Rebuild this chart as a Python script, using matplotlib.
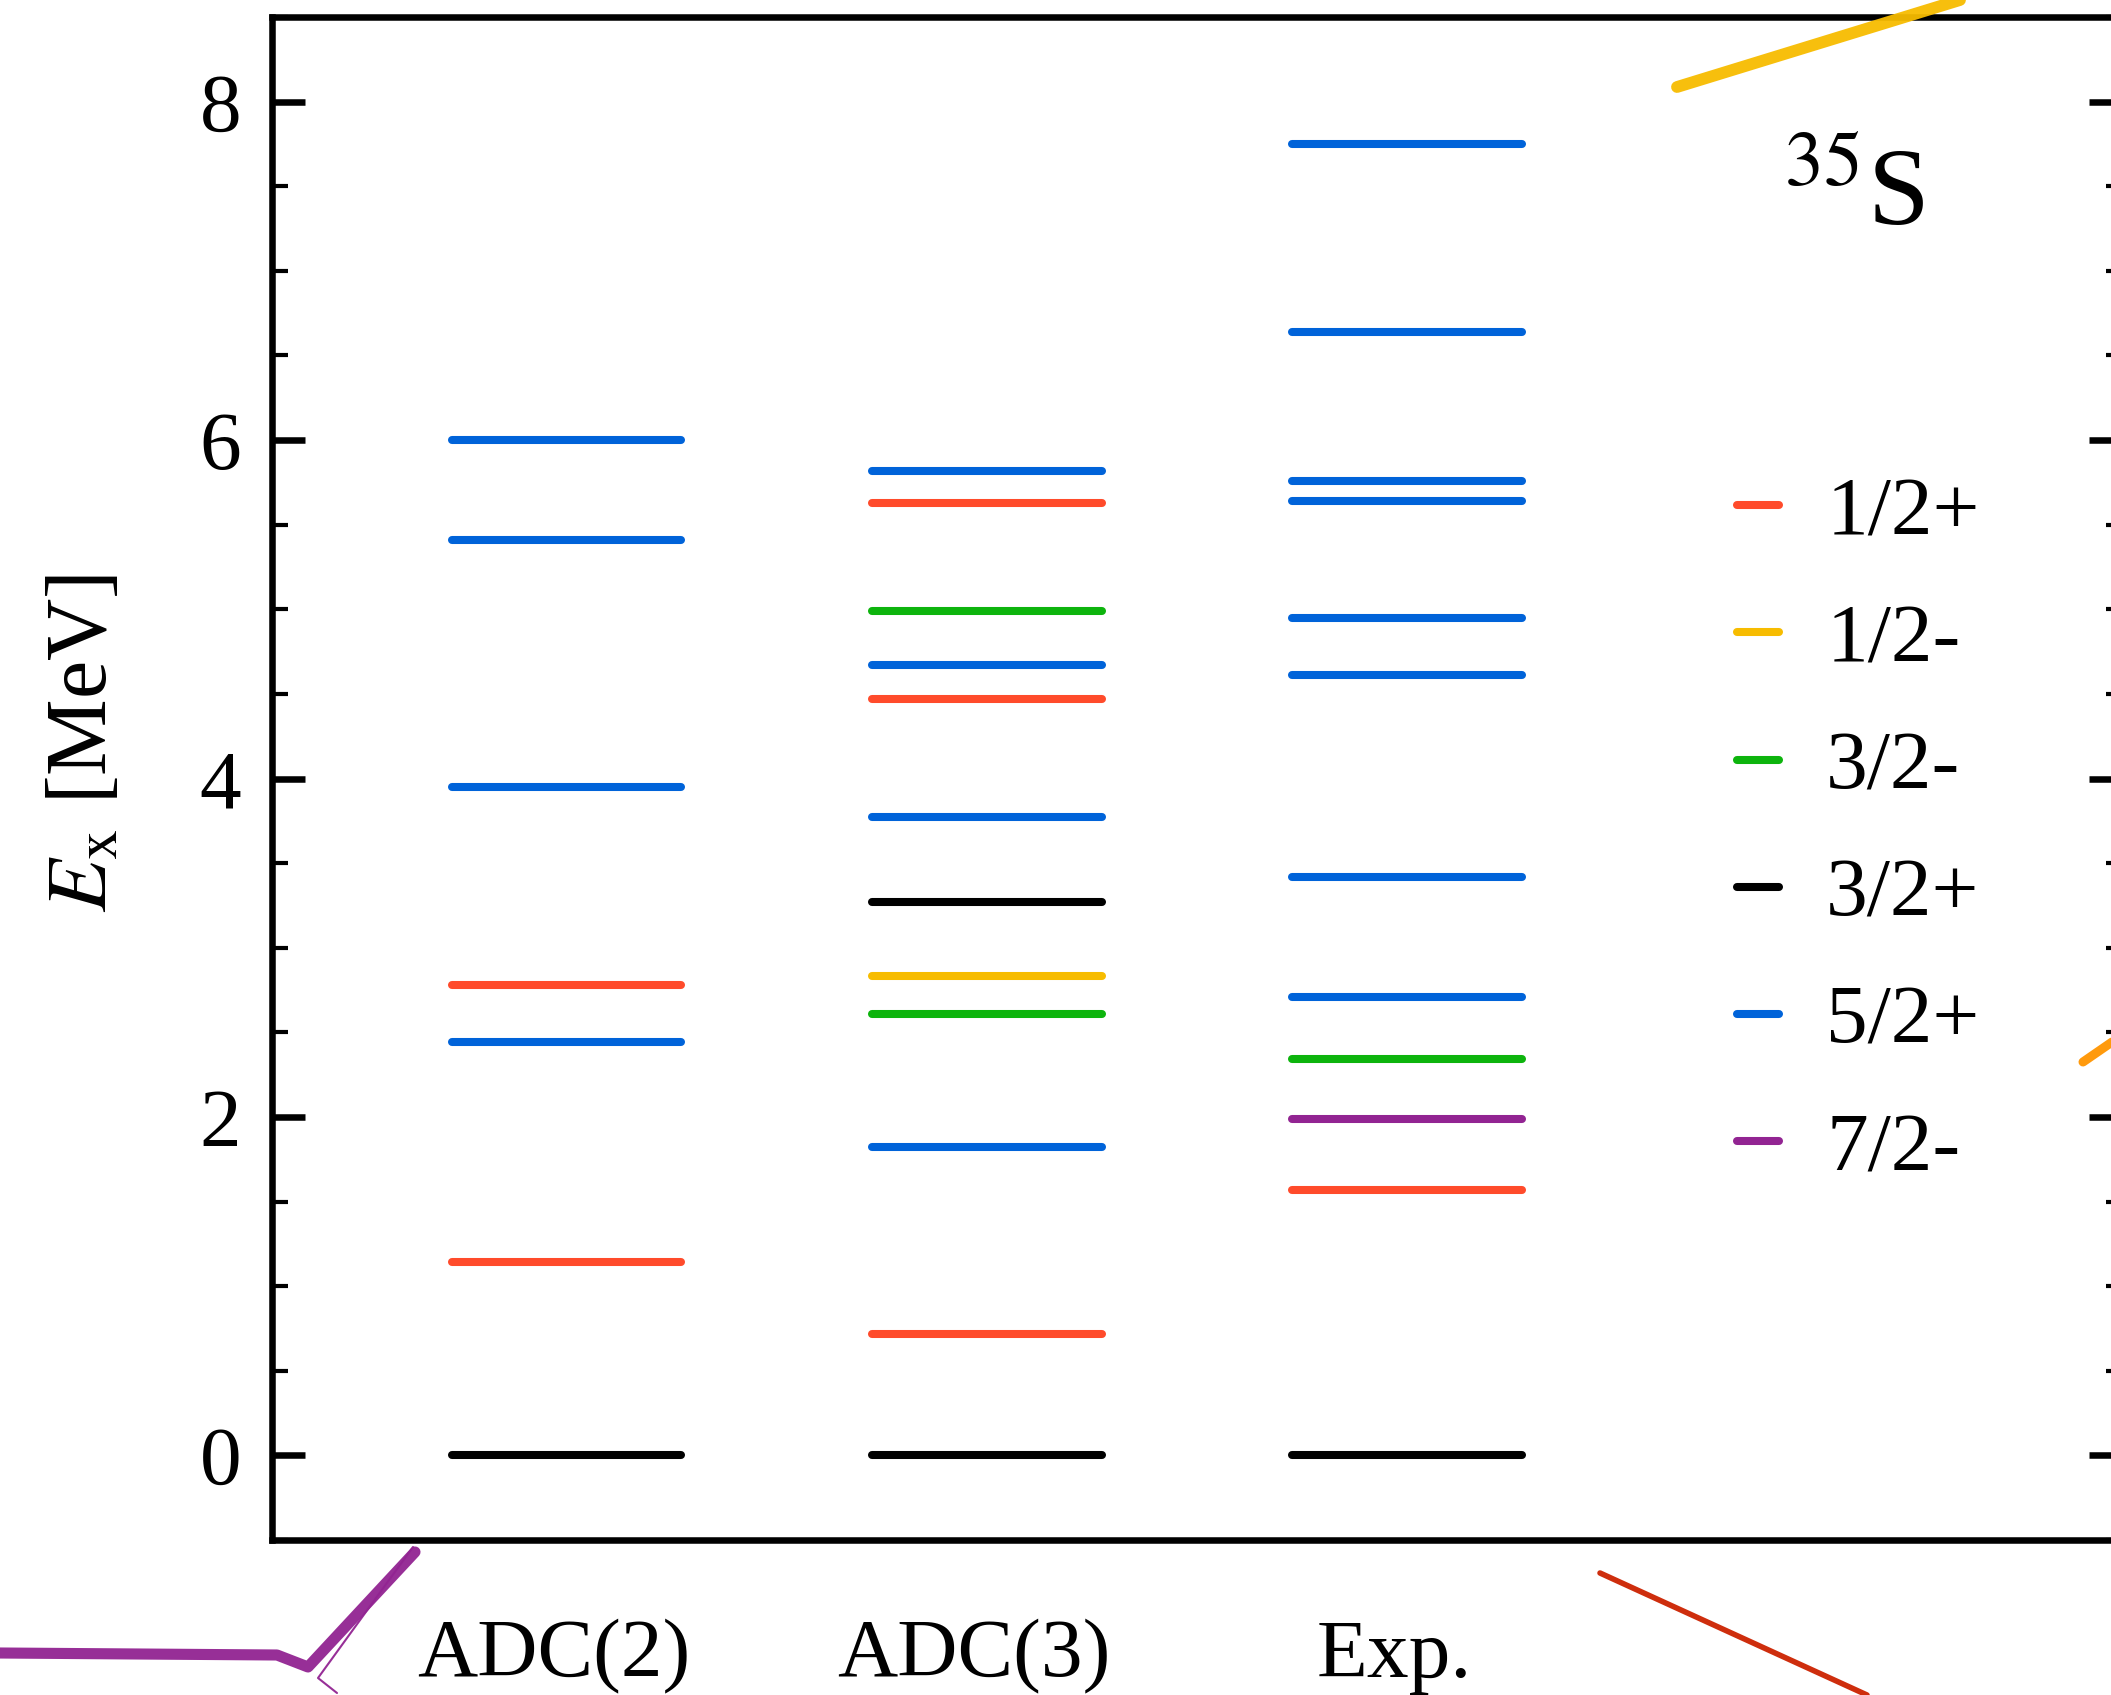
import matplotlib
matplotlib.use("Agg")
import matplotlib.pyplot as plt
from matplotlib.lines import Line2D
from matplotlib.ticker import MultipleLocator

plt.rcParams["font.family"] = ["Liberation Serif", "DejaVu Serif"]
plt.rcParams["mathtext.fontset"] = "stix"

# ── level data (MeV) ──
methods = ["ADC(2)", "ADC(3)", "Exp."]

adc2_E    = [6.00, 5.41, 3.95, 2.78, 2.44, 1.14, 0.00]
adc2_spin = ["5/2+", "5/2+", "5/2+", "1/2+", "5/2+", "1/2+", "3/2+"]

adc3_E    = [5.82, 5.63, 4.99, 4.67, 4.47, 3.77, 3.27, 2.83, 2.61, 1.82, 0.72, 0.00]
adc3_spin = ["5/2+", "1/2+", "3/2-", "5/2+", "1/2+", "5/2+", "3/2+", "1/2-", "3/2-",
             "5/2+", "1/2+", "3/2+"]

exp_E    = [7.75, 6.64, 5.76, 5.64, 4.95, 4.61, 3.42, 2.71, 2.34, 1.99, 1.57, 0.00]
exp_spin = ["5/2+", "5/2+", "5/2+", "5/2+", "5/2+", "5/2+", "5/2+", "5/2+", "3/2-",
            "7/2-", "1/2+", "3/2+"]

spin_order = ["1/2+", "1/2-", "3/2-", "3/2+", "5/2+", "7/2-"]
spin_color = {"1/2+": "#FF4B2B", "1/2-": "#F7BC00", "3/2-": "#0DB40D",
              "3/2+": "#000000", "5/2+": "#0063D9", "7/2-": "#922492"}

# pen strokes drawn over the figure (figure pixel coords, origin top-left)
strokes = [
    ("#F7BC00", 8.5, [(1677, 87), (1960, 0)]),
    ("#922492", 8.0, [(0, 1653), (277, 1655), (308, 1667), (415, 1552)]),
    ("#922492", 1.5, [(337, 1693), (318, 1678), (413, 1547)]),
    ("#CC2200", 4.0, [(1600, 1573), (1867, 1695)]),
    ("#FF9500", 6.5, [(2083, 1062), (2112, 1042)]),
]

W, H = 2111, 1695
fig = plt.figure(figsize=(W / 100, H / 100), dpi=100)
ax = fig.add_axes([272 / W, 1 - 1540 / H, (2122 - 272) / W, (1540 - 17) / H])

half = 0.273
for i, (E, S) in enumerate([(adc2_E, adc2_spin), (adc3_E, adc3_spin), (exp_E, exp_spin)]):
    x0 = i + 1
    for e, s in zip(E, S):
        ax.plot([x0 - half, x0 + half], [e, e], color=spin_color[s], lw=5.8,
                solid_capstyle="round")

ax.set_xlim(0.3, 4.7)
ax.set_ylim(-0.5, 8.5)
ax.set_xticks([1 - 0.03, 2 - 0.03, 3 - 0.03])
ax.set_xticklabels(methods)
ax.yaxis.set_major_locator(MultipleLocator(2))
ax.yaxis.set_minor_locator(MultipleLocator(0.5))
ax.tick_params(axis="x", length=0, pad=57, labelsize=60)
ax.tick_params(axis="y", which="both", direction="in", left=True, right=True, labelsize=60)
ax.tick_params(axis="y", which="major", length=24, width=4.7, pad=22)
ax.tick_params(axis="y", which="minor", length=11.5, width=3)
for sp in ax.spines.values():
    sp.set_linewidth(4.7)

fig.text(85 / W, 1 - 743 / H, r"$E_{\rm x}$ [MeV]", rotation=90,
         ha="center", va="center", fontsize=62)
fig.text(1783 / W, 1 - 225 / H, r"$^{35}$S", ha="left", va="baseline", fontsize=80)

handles = [Line2D([], [], color=spin_color[s], lw=5.8, solid_capstyle="round")
           for s in spin_order]
ax.legend(handles, spin_order, loc="upper left", bbox_to_anchor=(1737 / W, 1 - 476 / H),
          bbox_transform=fig.transFigure, frameon=False, fontsize=60,
          handlelength=0.5, handletextpad=0.57, labelspacing=0.61, borderpad=0,
          borderaxespad=0)

for col, lw, pts in strokes:
    xs = [p[0] / W for p in pts]
    ys = [1 - p[1] / H for p in pts]
    fig.add_artist(Line2D(xs, ys, color=col, lw=lw, transform=fig.transFigure,
                          solid_capstyle="round", solid_joinstyle="round", alpha=0.95))

fig.savefig("out.png", dpi=100)
